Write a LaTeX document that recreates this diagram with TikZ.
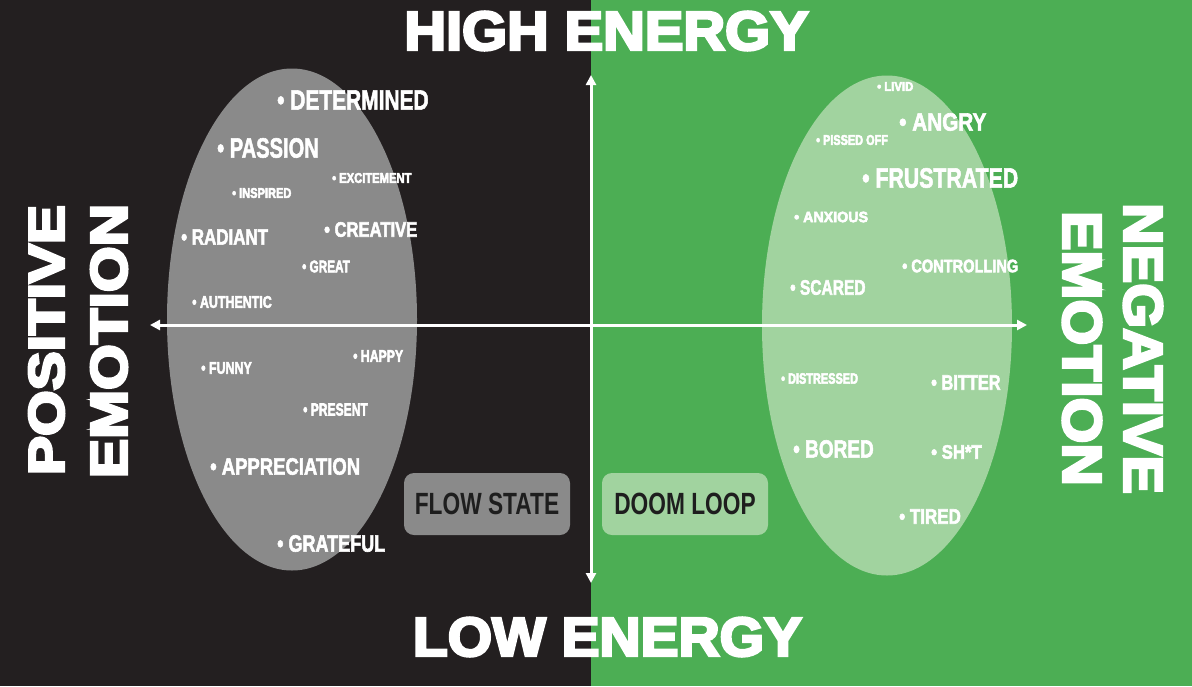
\documentclass[tikz,border=0pt]{standalone}
\usepackage{fontspec}
\usepackage{graphicx}
\usepackage[dvipsnames, svgnames]{xcolor}
\usetikzlibrary{arrows.meta,positioning}

\newfontfamily\wordfont{Liberation Sans Bold}
\newfontfamily\heavyfont{Liberation Sans Bold}

\definecolor{darkbg}{HTML}{231F20}
\definecolor{greenbg}{HTML}{4CAE54}
\definecolor{grayoval}{HTML}{8A8A8A}
\definecolor{greenoval}{HTML}{A1D39F}
\definecolor{boxtext}{HTML}{1E1E1E}

% fill and stroke the glyphs so the text comes out heavier
\newcommand{\heavier}[2]{\special{pdf:literal direct 2 Tr #1 w}#2\special{pdf:literal direct 0 Tr}}
\newcommand{\bul}[2]{\scalebox{#1}[1]{\heavier{0.6}{\textbullet\ #2}}}
\newcommand{\wide}[2]{\scalebox{#1}[1]{\heavier{2.6}{#2}}}

\tikzset{
  word/.style={anchor=west, inner sep=0pt, text=white, font=\wordfont\fontsize{#1}{#1}\selectfont},
  title/.style={inner sep=0pt, text=white, font=\heavyfont\fontsize{#1}{#1}\selectfont},
  tag/.style={rounded corners=10pt, minimum width=166pt, minimum height=62pt, inner sep=0pt,
    text=boxtext, font=\wordfont\fontsize{30.7}{30.7}\selectfont},
  axis/.style={draw=white, line width=3pt, {Triangle[length=10pt,width=10pt]}-{Triangle[length=10pt,width=10pt]}},
}

\begin{document}
\begin{tikzpicture}[x=1pt, y=-1pt]
            \useasboundingbox (0,0) rectangle (1192,686);
            \fill[darkbg] (0,0) rectangle (591,686);
            \fill[greenbg] (591,0) rectangle (1192,686);
            \fill[grayoval] (292,319.5) ellipse [x radius=125pt, y radius=251pt];
            \fill[greenoval] (887,325.5) ellipse [x radius=125pt, y radius=250pt];

            \coordinate (top) at (591,75);
            \coordinate (bottom) at (591,583);
            \coordinate (left) at (150,325);
            \coordinate (right) at (1027,325);
            \draw[axis] (left) -- (right);
            \draw[axis] (top) -- (bottom);

            \node (determined) [word=27.9] at (277,100) {\bul{0.75}{DETERMINED}};
            \node (passion) [word=27.9] at (217,148) {\bul{0.72}{PASSION}};
            \node (excitement) [word=14] at (332,178) {\bul{0.80}{EXCITEMENT}};
            \node (inspired) [word=14] at (232,193) {\bul{0.79}{INSPIRED}};
            \node (radiant) [word=22.3] at (181,237) {\bul{0.76}{RADIANT}};
            \node (creative) [word=21] at (324,229.5) {\bul{0.79}{CREATIVE}};
            \node (great) [word=16.8] at (302,266.5) {\bul{0.70}{GREAT}};
            \node (authentic) [word=16.8] at (192,302) {\bul{0.74}{AUTHENTIC}};
            \node (funny) [word=16.8] at (201,368) {\bul{0.74}{FUNNY}};
            \node (happy) [word=16.8] at (353,356) {\bul{0.73}{HAPPY}};
            \node (present) [word=17.5] at (303,409.5) {\bul{0.69}{PRESENT}};
            \node (appreciation) [word=23.7] at (210,466.5) {\bul{0.78}{APPRECIATION}};
            \node (grateful) [word=23.7] at (277,543.5) {\bul{0.76}{GRATEFUL}};

            \node (livid) [word=12.6] at (877,86.5) {\bul{0.90}{LIVID}};
            \node (angry) [word=25] at (899,122) {\bul{0.83}{ANGRY}};
            \node (pissed) [word=14] at (816,140) {\bul{0.78}{PISSED OFF}};
            \node (frustrated) [word=28] at (862,178) {\bul{0.76}{FRUSTRATED}};
            \node (anxious) [word=15] at (794,217) {\bul{0.95}{ANXIOUS}};
            \node (controlling) [word=18] at (902,266) {\bul{0.81}{CONTROLLING}};
            \node (scared) [word=21] at (790,287.5) {\bul{0.74}{SCARED}};
            \node (distressed) [word=15] at (781,378.5) {\bul{0.73}{DISTRESSED}};
            \node (bitter) [word=21] at (931,382.5) {\bul{0.78}{BITTER}};
            \node (bored) [word=25] at (793,449) {\bul{0.76}{BORED}};
            \node (shit) [word=19.5] at (931,452) {\bul{0.86}{SH*T}};
            \node (tired) [word=21] at (899,516.5) {\bul{0.81}{TIRED}};

            \node (flow) [tag, fill=grayoval] at (487,504) {\scalebox{0.74}[1]{FLOW STATE}};
            \node (doom) [tag, fill=greenoval] at (685,504) {\scalebox{0.74}[1]{DOOM LOOP}};

            \node (high) [title=55] at (606.5,31) {\wide{1.05}{HIGH ENERGY}};
            \node (low) [title=55] at (607.5,637) {\wide{1.035}{LOW ENERGY}};
            \node (positive) [title=50, rotate=90] at (46.5,340) {\wide{1.17}{POSITIVE}};
            \node (emotionpos) [title=51.5, rotate=90] at (109,341) {\wide{1.14}{EMOTION}};
            \node (negative) [title=55, rotate=-90] at (1143,348.5) {\wide{1.05}{NEGATIVE}};
            \node (emotionneg) [title=55, rotate=-90] at (1082,348.5) {\wide{1.07}{EMOTION}};
\end{tikzpicture}
\end{document}
